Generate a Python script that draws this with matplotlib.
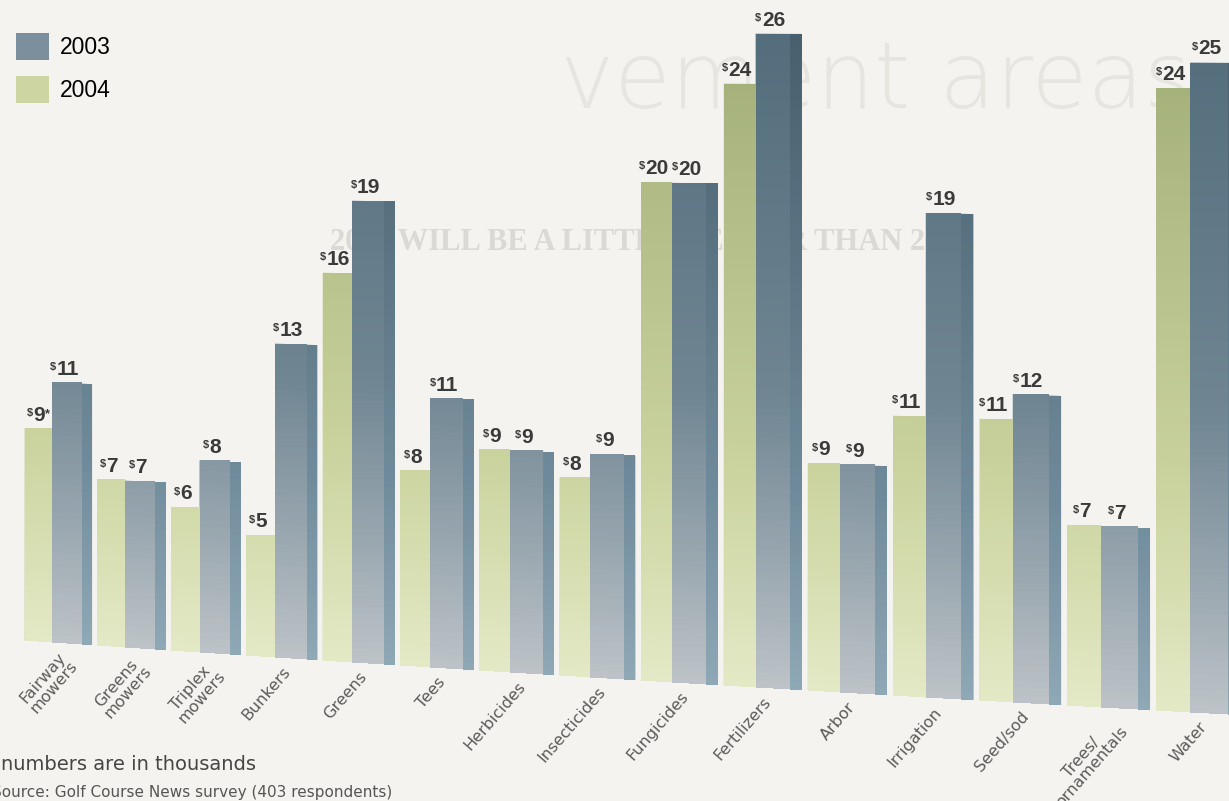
import numpy as np
import matplotlib
matplotlib.use("Agg")
import matplotlib.pyplot as plt
from matplotlib import transforms as mtransforms
from matplotlib.colors import LinearSegmentedColormap, Normalize
from matplotlib.patches import Patch

# spending per category, in thousands of dollars
categories = ["Fairway\nmowers", "Greens\nmowers", "Triplex\nmowers", "Bunkers", "Greens",
              "Tees", "Herbicides", "Insecticides", "Fungicides", "Fertilizers", "Arbor",
              "Irrigation", "Seed/sod", "Trees/\nornamentals", "Water"]
spend_2004 = [9, 7, 6, 5, 16, 8, 9, 8, 20, 24, 9, 11, 11, 7, 24]
spend_2003 = [11, 7, 8, 13, 19, 11, 9, 9, 20, 26, 9, 19, 12, 7, 25]
flagged = "Fairway\nmowers"  # 2004 value carries the footnote star

# perspective of the page: x spacing grows to the right, floor slopes down
X0, BX, CX = 52.0, 72.5, 0.63
Y0, SY = 642.0, 5.0
K0, K1 = 23.6, 0.17


class Tilt(mtransforms.Transform):
    input_dims = output_dims = 2
    is_separable = False
    has_inverse = True

    def transform_non_affine(self, xy):
        xy = np.asarray(xy, dtype=float)
        p = xy.reshape(-1, 2)
        i, v = p[:, 0], p[:, 1]
        out = np.column_stack([X0 + BX * i + CX * i ** 2, Y0 + SY * i - v * (K0 + K1 * i)])
        return out.reshape(xy.shape)

    def inverted(self):
        return TiltInv()


class TiltInv(mtransforms.Transform):
    input_dims = output_dims = 2
    is_separable = False
    has_inverse = True

    def transform_non_affine(self, xy):
        xy = np.asarray(xy, dtype=float)
        p = xy.reshape(-1, 2)
        X, Y = p[:, 0], p[:, 1]
        i = (-BX + np.sqrt(np.maximum(BX ** 2 + 4 * CX * (X - X0), 0))) / (2 * CX)
        out = np.column_stack([i, (Y0 + SY * i - Y) / (K0 + K1 * i)])
        return out.reshape(xy.shape)

    def inverted(self):
        return Tilt()


fig = plt.figure(figsize=(12.29, 8.01), dpi=100, facecolor="#f4f3ef")
ax = fig.add_axes([0, 0, 1, 1])
ax.set_facecolor("#f4f3ef")
T = Tilt() + ax.transData

# faint show-through of the magazine page
ax.text(560, 108, "vement areas", fontsize=66, color="#e6e5e0", family="DejaVu Sans",
        weight="light", va="baseline", zorder=0)
ax.text(330, 250, "2005 WILL BE A LITTLE BETTER THAN 2004", fontsize=22, color="#dad9d3",
        family="Liberation Serif", weight="bold", va="baseline", zorder=0)

idx = np.arange(len(categories))
GW, FW, SW = 0.38, 0.41, 0.14
VMAX = 26
norm = Normalize(0, VMAX)
levels = np.linspace(0, VMAX, 90)
mids = ((levels[:-1] + levels[1:]) / 2)[:, None]

green = LinearSegmentedColormap.from_list(
    "g", [(0, "#e3e9c5"), (0.35, "#c9d29c"), (1, "#a1ad77")])
blue = LinearSegmentedColormap.from_list(
    "b", [(0, "#bdc3c7"), (0.2, "#98a6af"), (0.45, "#6f8592"), (1, "#536d7c")])
side = LinearSegmentedColormap.from_list(
    "s", [(0, "#8fa8b6"), (0.3, "#6f8a9a"), (1, "#485f6d")])


def shade(bars, cmap):
    for r in bars:
        x0 = r.get_x()
        m = ax.pcolormesh([x0, x0 + r.get_width()], levels, mids, cmap=cmap, norm=norm,
                          transform=T, shading="flat", zorder=2)
        m.set_clip_path(r)


b04 = ax.bar(idx - GW, spend_2004, width=GW, align="edge", color="#cbd39f", transform=T, zorder=2)
b03 = ax.bar(idx, spend_2003, width=FW, align="edge", color="#7d919d", transform=T, zorder=2)
b03s = ax.bar(idx + FW, spend_2003, width=SW, align="edge", color="#66808f", transform=T, zorder=2)
shade(b04, green)
shade(b03, blue)
shade(b03s, side)

lab = dict(family=["Liberation Sans", "DejaVu Sans"], weight="bold", color="#3a3a3a")


def value_labels(xs, vals, names=None):
    for k, (x, v) in enumerate(zip(xs, vals)):
        t = ax.annotate(f"{v}", (x, v), xycoords=T, xytext=(0.5, 3), textcoords="offset points",
                        ha="center", va="bottom", size=15, zorder=4, **lab)
        ax.annotate("$", (0, 1), xycoords=t, xytext=(-0.3, -1.5), textcoords="offset points",
                    ha="right", va="top", size=8, zorder=4, **lab)
        if names is not None and names[k] == flagged:
            ax.annotate("*", (1, 1), xycoords=t, xytext=(0.3, -1.5), textcoords="offset points",
                        ha="left", va="top", size=9, zorder=4, **lab)


value_labels(idx - GW / 2, spend_2004, categories)
value_labels(idx + FW / 2, spend_2003)

for i, name in zip(idx, categories):
    ax.annotate(name, (i + 0.07, 0), xycoords=T, xytext=(1, -5), textcoords="offset points",
                rotation=49, rotation_mode="anchor", ha="right", va="top",
                multialignment="center", fontsize=11.5, color="#5b5b5b", linespacing=0.95,
                family="DejaVu Sans")

ax.text(1, 764, "numbers are in thousands", fontsize=14, color="#454545",
        family="DejaVu Sans", va="center")
ax.text(-8, 797, "Source: Golf Course News survey (403 respondents)", fontsize=11,
        color="#555555", family="DejaVu Sans", va="baseline")

handles = [Patch(facecolor="#7b909c", label="2003"), Patch(facecolor="#cdd5a3", label="2004")]
fig.legend(handles=handles, loc="upper left", bbox_to_anchor=(16 / 1229, 1 - 33 / 801),
           frameon=False, borderpad=0, borderaxespad=0, handlelength=1.45, handleheight=1.45,
           handletextpad=0.45, labelspacing=0.7,
           prop=dict(family="Liberation Sans", size=16.5))

ax.set_xlim(0, 1229)
ax.set_ylim(801, 0)
ax.axis("off")
fig.savefig("out.png", dpi=100, facecolor=fig.get_facecolor())
